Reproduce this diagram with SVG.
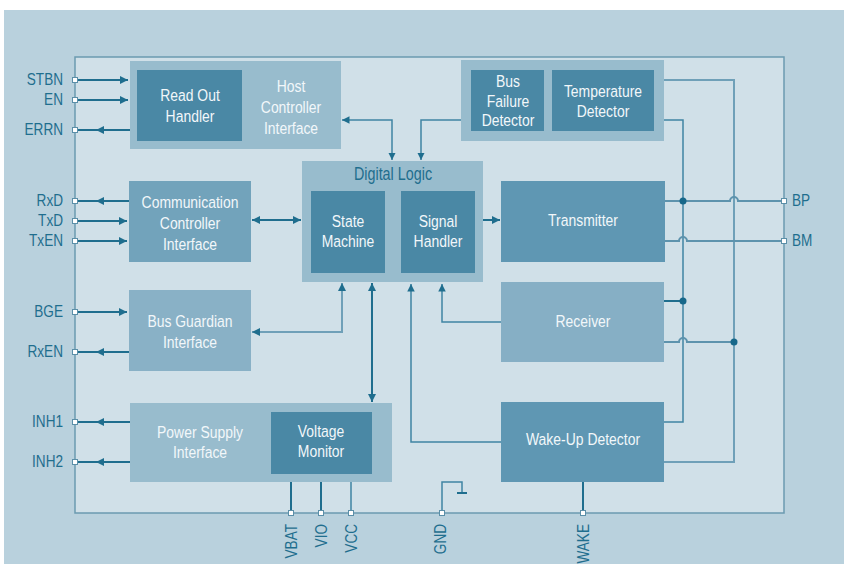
<svg xmlns="http://www.w3.org/2000/svg" width="844" height="564" viewBox="0 0 844 564">
<defs>
<style>
text{font-family:"Liberation Sans",Arial,sans-serif;font-size:17px}
.pl{fill:#1f6e8e;text-anchor:end;font-size:16px}
.pr{fill:#1f6e8e;text-anchor:start;font-size:16px}
.bt{fill:#f2f7fa;text-anchor:middle}
.dl{fill:#1f6e8e;text-anchor:middle;font-size:17.5px}
.lb{fill:#98bccd}
.db{fill:#4a88a5}
.mb{fill:#5f97b3}
.pin{fill:#ffffff;stroke:#5b8fa8;stroke-width:1}
.c1{fill:none;stroke:#1f6e8e;stroke-width:2}
.c2{fill:none;stroke:#3f84a3;stroke-width:1.5}
.c3{fill:none;stroke:#6fa0b8;stroke-width:2}
.c4{fill:none;stroke:#5d93ad;stroke-width:2}
.dot{fill:#17688a}
</style>
<marker id="ah" viewBox="0 0 10 10" refX="10" refY="5" markerWidth="4" markerHeight="4" orient="auto-start-reverse" markerUnits="strokeWidth">
<path d="M0,0 L10,5 L0,10 z" fill="#1f6e8e"/>
</marker>
<marker id="ah2" viewBox="0 0 10 10" refX="10" refY="5" markerWidth="5" markerHeight="5" orient="auto-start-reverse" markerUnits="strokeWidth">
<path d="M0,0 L10,5 L0,10 z" fill="#1f6e8e"/>
</marker>
<marker id="am" viewBox="0 0 10 10" refX="5" refY="5" markerWidth="4" markerHeight="4" orient="auto" markerUnits="strokeWidth">
<path d="M0,0 L10,5 L0,10 z" fill="#1f6e8e"/>
</marker>
</defs>

<rect x="4" y="10" width="840" height="554" fill="#b9d1dd"/>
<rect id="chip" x="75" y="57" width="709" height="456" fill="#d0e0e8" stroke="#6b9ab0" stroke-width="1.5"/>

<g id="connectors">
<path class="c1" d="M75,80 H128" marker-end="url(#ah)"/>
<path class="c1" d="M75,100 H128" marker-end="url(#ah)"/>
<path class="c1" d="M130,130 H100 H75" marker-mid="url(#am)"/>
<path class="c1" d="M129,201 H100 H75" marker-mid="url(#am)"/>
<path class="c1" d="M75,221 H127" marker-end="url(#ah)"/>
<path class="c1" d="M75,241 H127" marker-end="url(#ah)"/>
<path class="c1" d="M75,312 H127" marker-end="url(#ah)"/>
<path class="c1" d="M129,352 H100 H75" marker-mid="url(#am)"/>
<path class="c1" d="M130,422 H100 H75" marker-mid="url(#am)"/>
<path class="c1" d="M130,462 H100 H75" marker-mid="url(#am)"/>
<path class="c2" d="M342,120 H392 V160" marker-start="url(#ah2)" marker-end="url(#ah2)"/>
<path class="c2" d="M471,120 H421 V160" marker-end="url(#ah2)"/>
<path class="c1" d="M252,220 H301" marker-start="url(#ah)" marker-end="url(#ah)"/>
<path class="c1" d="M483,220 H500" marker-end="url(#ah)"/>
<path class="c3" d="M342,283 V332 H252" marker-start="url(#ah)" marker-end="url(#ah)"/>
<path class="c1" d="M372,283 V402" marker-start="url(#ah)" marker-end="url(#ah)"/>
<path class="c2" d="M501,442 H411 V284" marker-end="url(#ah2)"/>
<path class="c2" d="M501,322 H442 V284" marker-end="url(#ah2)"/>
<path class="c1" d="M291,482 V513"/>
<path class="c1" d="M321,482 V513"/>
<path class="c2" d="M351,482 V513"/>
<path class="c2" d="M442,513 V482 H462 V493"/>
<path class="c1" d="M457,493 H467"/>
<path class="c1" d="M583,482 V513"/>
<path class="c3" d="M664,80 H734 V462 H664"/>
<path class="c2" d="M664,120 H683 V422 H664"/>
<path class="c4" d="M665,201 H730 a4,4 0 0 1 8,0 H784"/>
<path class="c4" d="M665,241 H679 a4,4 0 0 1 8,0 H784"/>
<path class="c1" d="M664,301 H683"/>
<path class="c4" d="M664,342 H679 a4,4 0 0 1 8,0 H734"/>
<circle class="dot" cx="683" cy="201" r="3.5"/>
<circle class="dot" cx="683" cy="301" r="3.5"/>
<circle class="dot" cx="734" cy="342" r="3.5"/>
<rect class="pin" x="72.5" y="77.5" width="5" height="5"/>
<rect class="pin" x="72.5" y="97.5" width="5" height="5"/>
<rect class="pin" x="72.5" y="127.5" width="5" height="5"/>
<rect class="pin" x="72.5" y="198.5" width="5" height="5"/>
<rect class="pin" x="72.5" y="218.5" width="5" height="5"/>
<rect class="pin" x="72.5" y="238.5" width="5" height="5"/>
<rect class="pin" x="72.5" y="309.5" width="5" height="5"/>
<rect class="pin" x="72.5" y="349.5" width="5" height="5"/>
<rect class="pin" x="72.5" y="419.5" width="5" height="5"/>
<rect class="pin" x="72.5" y="459.5" width="5" height="5"/>
<rect class="pin" x="781.5" y="198.5" width="5" height="5"/>
<rect class="pin" x="781.5" y="238.5" width="5" height="5"/>
<rect class="pin" x="288.5" y="510.5" width="5" height="5"/>
<rect class="pin" x="318.5" y="510.5" width="5" height="5"/>
<rect class="pin" x="348.5" y="510.5" width="5" height="5"/>
<rect class="pin" x="439.5" y="510.5" width="5" height="5"/>
<rect class="pin" x="580.5" y="510.5" width="5" height="5"/>
</g>

<g id="pin-labels">
<text class="pl" transform="translate(63,85) scale(0.85,1)">STBN</text>
<text class="pl" transform="translate(63,105) scale(0.85,1)">EN</text>
<text class="pl" transform="translate(63,135) scale(0.85,1)">ERRN</text>
<text class="pl" transform="translate(63,206) scale(0.85,1)">RxD</text>
<text class="pl" transform="translate(63,226) scale(0.85,1)">TxD</text>
<text class="pl" transform="translate(63,246) scale(0.85,1)">TxEN</text>
<text class="pl" transform="translate(63,317) scale(0.85,1)">BGE</text>
<text class="pl" transform="translate(63,357) scale(0.85,1)">RxEN</text>
<text class="pl" transform="translate(63,427) scale(0.85,1)">INH1</text>
<text class="pl" transform="translate(63,467) scale(0.85,1)">INH2</text>
<text class="pr" transform="translate(792,206) scale(0.85,1)">BP</text>
<text class="pr" transform="translate(792,246) scale(0.85,1)">BM</text>
<text class="pl" transform="translate(297,524) rotate(-90) scale(0.85,1)">VBAT</text>
<text class="pl" transform="translate(327,524) rotate(-90) scale(0.85,1)">VIO</text>
<text class="pl" transform="translate(357,524) rotate(-90) scale(0.85,1)">VCC</text>
<text class="pl" transform="translate(446,524) rotate(-90) scale(0.85,1)">GND</text>
<text class="pl" transform="translate(589,524) rotate(-90) scale(0.85,1)">WAKE</text>
</g>

<g id="host-controller-interface">
<rect class="lb" x="130" y="61" width="211" height="88"/>
<text class="bt" transform="translate(291,92) scale(0.82,1)">Host</text>
<text class="bt" transform="translate(291,113) scale(0.82,1)">Controller</text>
<text class="bt" transform="translate(291,134) scale(0.82,1)">Interface</text>
</g>
<g id="read-out-handler">
<rect class="db" x="137" y="70" width="105" height="71"/>
<text class="bt" transform="translate(190,101) scale(0.82,1)">Read Out</text>
<text class="bt" transform="translate(190,122) scale(0.82,1)">Handler</text>
</g>

<g id="bus-failure-group">
<rect class="lb" x="461" y="60" width="203" height="81"/>
</g>
<g id="bus-failure-detector">
<rect class="db" x="471" y="70" width="73" height="61"/>
<text class="bt" transform="translate(508,87) scale(0.82,1)">Bus</text>
<text class="bt" transform="translate(508,107) scale(0.82,1)">Failure</text>
<text class="bt" transform="translate(508,126) scale(0.82,1)">Detector</text>
</g>
<g id="temperature-detector">
<rect class="db" x="552" y="70" width="102" height="61"/>
<text class="bt" transform="translate(603,97) scale(0.82,1)">Temperature</text>
<text class="bt" transform="translate(603,117) scale(0.82,1)">Detector</text>
</g>

<g id="digital-logic">
<rect class="lb" x="302" y="161" width="181" height="121"/>
<text class="dl" transform="translate(393,180) scale(0.82,1)">Digital Logic</text>
</g>
<g id="state-machine">
<rect class="db" x="311" y="191" width="74" height="82"/>
<text class="bt" transform="translate(348,227) scale(0.82,1)">State</text>
<text class="bt" transform="translate(348,247) scale(0.82,1)">Machine</text>
</g>
<g id="signal-handler">
<rect class="db" x="401" y="191" width="74" height="82"/>
<text class="bt" transform="translate(438,227) scale(0.82,1)">Signal</text>
<text class="bt" transform="translate(438,247) scale(0.82,1)">Handler</text>
</g>

<g id="communication-controller-interface">
<rect x="129" y="181" width="122" height="81" fill="#72a3bb"/>
<text class="bt" transform="translate(190,208) scale(0.82,1)">Communication</text>
<text class="bt" transform="translate(190,229) scale(0.82,1)">Controller</text>
<text class="bt" transform="translate(190,250) scale(0.82,1)">Interface</text>
</g>

<g id="bus-guardian-interface">
<rect x="129" y="290" width="122" height="81" fill="#89b1c6"/>
<text class="bt" transform="translate(190,327) scale(0.82,1)">Bus Guardian</text>
<text class="bt" transform="translate(190,348) scale(0.82,1)">Interface</text>
</g>

<g id="power-supply-interface">
<rect class="lb" x="130" y="403" width="262" height="79"/>
<text class="bt" transform="translate(200,438) scale(0.82,1)">Power Supply</text>
<text class="bt" transform="translate(200,458) scale(0.82,1)">Interface</text>
</g>
<g id="voltage-monitor">
<rect class="db" x="271" y="412" width="101" height="62"/>
<text class="bt" transform="translate(321,437) scale(0.82,1)">Voltage</text>
<text class="bt" transform="translate(321,457) scale(0.82,1)">Monitor</text>
</g>

<g id="transmitter">
<rect class="mb" x="501" y="181" width="164" height="81"/>
<text class="bt" transform="translate(583,226) scale(0.82,1)">Transmitter</text>
</g>
<g id="receiver">
<rect x="501" y="282" width="163" height="80" fill="#86afc5"/>
<text class="bt" transform="translate(583,327) scale(0.82,1)">Receiver</text>
</g>
<g id="wake-up-detector">
<rect class="mb" x="501" y="402" width="163" height="80"/>
<text class="bt" transform="translate(583,445) scale(0.82,1)">Wake-Up Detector</text>
</g>
</svg>
